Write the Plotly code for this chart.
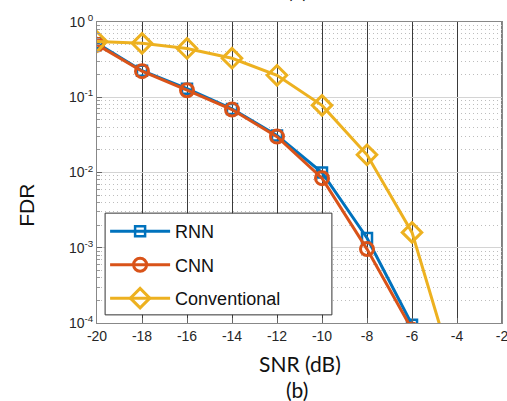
import plotly.graph_objects as go

snr = [-20, -18, -16, -14, -12, -10, -8, -6]
snr_conv = [-20, -18, -16, -14, -12, -10, -8, -6, -4]
rnn = [0.52, 0.225, 0.13, 0.070, 0.031, 0.0100, 0.00135, 0.000095]
cnn = [0.50, 0.222, 0.124, 0.0686, 0.030, 0.0084, 0.00096, 0.000082]
conventional = [0.55, 0.52, 0.445, 0.33, 0.196, 0.078, 0.0172, 0.0016, 0.000016]

x_ticks = [-20, -18, -16, -14, -12, -10, -8, -6, -4, -2]
x_tick_labels = ["-20", "-18", "-16", "-14", "-12", "-10", "-8", "-6", "-4", "-2"]
y_ticks = [1e-4, 1e-3, 1e-2, 1e-1, 1e0]
y_tick_labels = ["10<sup>-4</sup>", "10<sup>-3</sup>", "10<sup>-2</sup>", "10<sup>-1</sup>", "10<sup> 0</sup>"]

c_rnn = "#0072BD"
c_cnn = "#D95319"
c_conv = "#EDB120"

fig = go.Figure()
fig.add_trace(go.Scatter(x=snr, y=rnn, name="RNN", mode="lines+markers", legendgroup="g1",
                         line=dict(color=c_rnn, width=3),
                         marker=dict(symbol="square-open", size=10, color=c_rnn, line=dict(width=2.5, color=c_rnn))))
fig.add_trace(go.Scatter(x=snr, y=cnn, name="CNN", mode="lines+markers", legendgroup="g2",
                         line=dict(color=c_cnn, width=3),
                         marker=dict(symbol="circle-open", size=13, color=c_cnn, line=dict(width=3, color=c_cnn))))
fig.add_trace(go.Scatter(x=snr_conv, y=conventional, name="Conventional", mode="lines+markers", legendgroup="g3",
                         line=dict(color=c_conv, width=3),
                         marker=dict(symbol="diamond-open", size=15, color=c_conv, line=dict(width=3, color=c_conv))))

fig.update_layout(
    width=507, height=401,
    margin=dict(l=97, r=5, t=22, b=78, autoexpand=False),
    paper_bgcolor="white", plot_bgcolor="white",
    font=dict(family="Liberation Sans, Arial, sans-serif", size=14, color="#262626"),
    showlegend=True,
    legend=dict(x=0.02, y=0.365, xanchor="left", yanchor="top",
                bgcolor="rgba(0,0,0,0)", borderwidth=0,
                font=dict(family="Liberation Sans, Arial, sans-serif", size=18, color="#111111"),
                itemwidth=60, tracegroupgap=7),
    xaxis=dict(range=[-20, -2], tickvals=x_ticks, ticktext=x_tick_labels,
               showgrid=True, gridcolor="#3a3a3a", gridwidth=1.3,
               showline=True, linecolor="#888888", linewidth=1, mirror=True,
               ticks="inside", ticklen=5, tickcolor="#666666", automargin=False,
               ticklabeloverflow="allow",
               tickfont=dict(size=14, color="#262626"), zeroline=False),
    yaxis=dict(type="log", range=[-4, 0], tickvals=y_ticks, ticktext=y_tick_labels,
               showgrid=True, gridcolor="#d4d4d4", gridwidth=1,
               showline=True, linecolor="#888888", linewidth=1, mirror=True,
               ticks="inside", ticklen=5, tickcolor="#666666", automargin=False,
               ticklabeloverflow="allow",
               minor=dict(dtick="D1", showgrid=True, griddash="1px,3px", gridcolor="#bdbdbd", gridwidth=1,
                          ticks="inside", ticklen=3, tickcolor="#999999"),
               tickfont=dict(size=14, color="#262626"), zeroline=False),
    shapes=[
        dict(type="line", xref="x", yref="paper", x0=-2, x1=-2, y0=0, y1=1,
             line=dict(color="#3a3a3a", width=1.3), layer="below"),
        dict(type="rect", xref="paper", yref="paper", x0=0.02, x1=0.58, y0=0.027, y1=0.365,
             fillcolor="white", line=dict(color="#333333", width=1), layer="above"),
    ],
    annotations=[
        dict(text="FDR", xref="paper", yref="paper", x=-0.175, y=0.39, textangle=-90,
             showarrow=False, font=dict(family="Liberation Sans, Arial, sans-serif", size=21, color="#111111"),
             xanchor="center", yanchor="middle"),
        dict(text="SNR (dB)", xref="paper", yref="paper", x=0.5, y=-0.088,
             showarrow=False, font=dict(family="Lato, Open Sans, sans-serif", size=21, color="#111111"),
             xanchor="center", yanchor="top"),
        dict(text="(b)", xref="paper", yref="paper", x=0.495, y=-0.172,
             showarrow=False, font=dict(family="Lato, Open Sans, sans-serif", size=21, color="#111111"),
             xanchor="center", yanchor="top"),
        dict(text="(a)", xref="paper", yref="paper", x=0.495, y=1.06,
             showarrow=False, font=dict(family="Lato, Open Sans, sans-serif", size=21, color="#111111"),
             xanchor="center", yanchor="bottom"),
    ],
)

fig.write_html("out.html", config={"displayModeBar": False},
               post_script="document.body.style.margin='0';document.body.style.overflow='hidden';")
